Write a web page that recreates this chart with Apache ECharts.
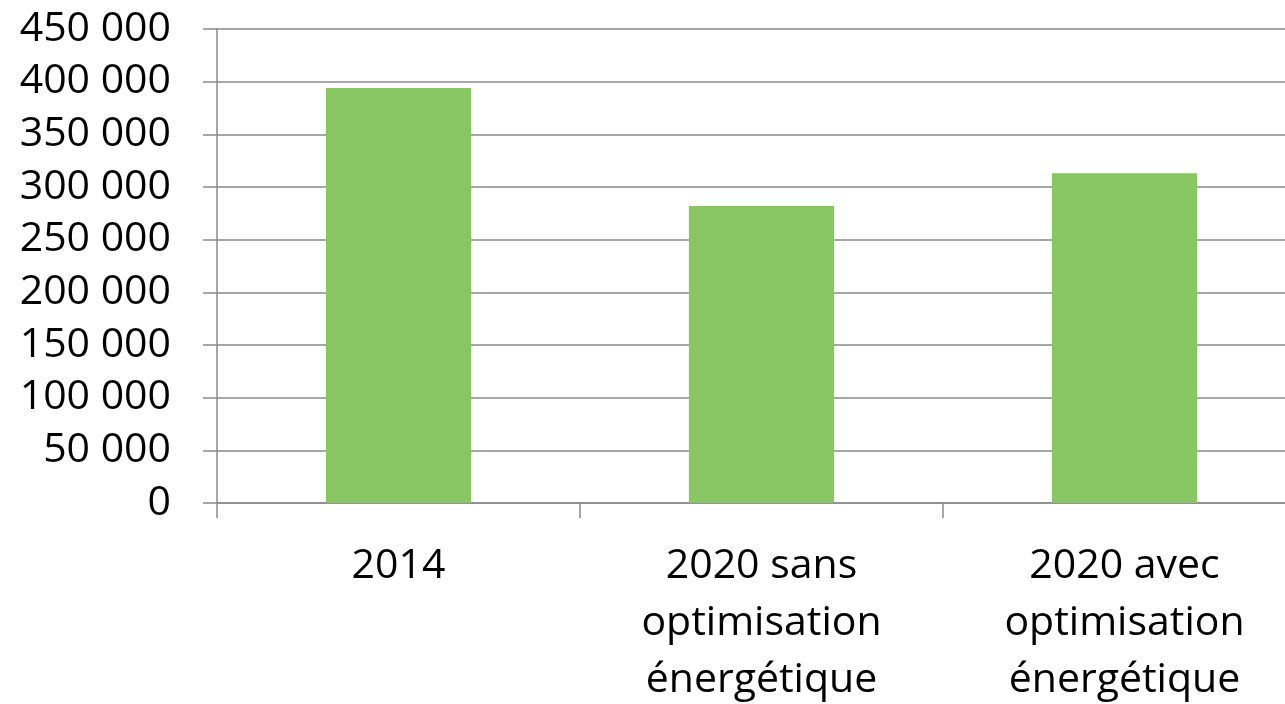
<!DOCTYPE html>
<html>
<head>
<meta charset="utf-8">
<script src="https://cdn.jsdelivr.net/npm/echarts@6/dist/echarts.min.js"></script>
<style>
  html, body { margin: 0; padding: 0; background: #ffffff; }
  #chart { width: 1285px; height: 704px; }
</style>
</head>
<body>
<div id="chart"></div>
<script>
// Consommation : 2014 et deux scénarios 2020
const categories = ['2014', '2020 sans\noptimisation\nénergétique', '2020 avec\noptimisation\nénergétique'];
const values = [394000, 282000, 313000];
const yMin = 0;
const yMax = 450000;
const yStep = 50000;

const FONT = '"Open Sans", "Noto Sans", sans-serif';
const GRID_GREY = '#8a8a8a';

// thousands separated by a space, e.g. 450 000
function frNumber(v) {
  return String(v).replace(/\B(?=(\d{3})+(?!\d))/g, ' ');
}

const chart = echarts.init(document.getElementById('chart'), null, { renderer: 'canvas' });

chart.setOption({
  animation: false,
  backgroundColor: '#ffffff',
  grid: {
    left: 217, right: -21, top: 29, bottom: 201,
    containLabel: false,
    outerBoundsMode: 'none'
  },
  xAxis: {
    type: 'category',
    data: categories,
    boundaryGap: true,
    axisLine: { show: true, lineStyle: { color: GRID_GREY, width: 1.5 } },
    axisTick: { show: true, length: 15, lineStyle: { color: GRID_GREY, width: 1.5 } },
    axisLabel: {
      interval: 0,
      margin: 35,
      color: '#000000',
      fontFamily: FONT,
      fontSize: 41,
      lineHeight: 57,
      align: 'center'
    }
  },
  yAxis: {
    type: 'value',
    min: yMin,
    max: yMax,
    interval: yStep,
    axisLine: { show: true, lineStyle: { color: GRID_GREY, width: 1.5 } },
    axisTick: { show: true, length: 14, lineStyle: { color: GRID_GREY, width: 1.5 } },
    splitLine: { show: true, lineStyle: { color: GRID_GREY, width: 1.5 } },
    axisLabel: {
      margin: 46,
      color: '#000000',
      fontFamily: FONT,
      fontSize: 41,
      formatter: frNumber
    }
  },
  series: [{
    type: 'bar',
    data: values,
    barWidth: '40%',
    itemStyle: { color: '#87c662' }
  }]
});
</script>
</body>
</html>
